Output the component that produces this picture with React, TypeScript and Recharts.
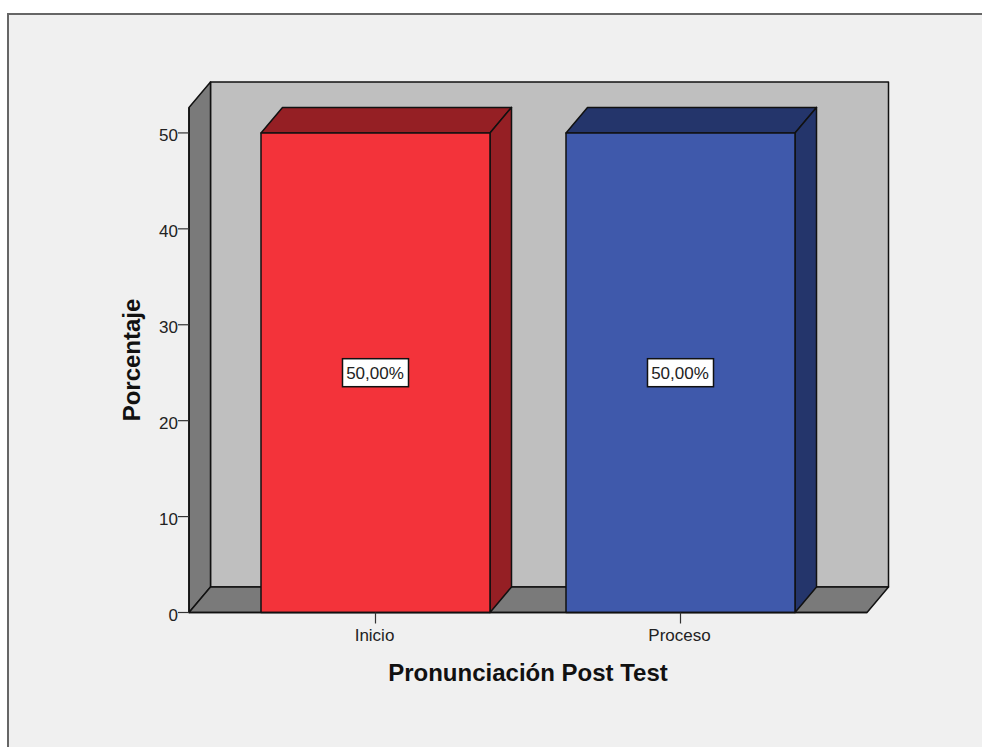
import { BarChart, Bar, XAxis, YAxis, LabelList, usePlotArea } from 'recharts';

const categories = ['Inicio', 'Proceso'];
const percentages = [50, 50];
const yTicks = [0, 10, 20, 30, 40, 50];
const yMax = 52.65;

const frontColors = ['#f3333a', '#3f59ab'];
const shadeColors = ['#951f24', '#24356b'];

const rows = categories.map((name, i) => ({ name, value: percentages[i] }));

// offset of the back wall from the front of the box
const DX = 21.5;
const DY = 25.5;
const FONT = '"Liberation Sans", Arial, sans-serif';

function Box() {
  const plot = usePlotArea();
  if (!plot) return null;
  const { x, y, width, height } = plot;
  const line = { stroke: '#111', strokeWidth: 1.5, strokeLinejoin: 'round' as const };
  return (
    <g>
      <rect x={x + DX} y={y - DY} width={width} height={height} fill="#bfbfbf" {...line} />
      <polygon
        points={`${x},${y} ${x + DX},${y - DY} ${x + DX},${y + height - DY} ${x},${y + height}`}
        fill="#7a7a7a"
        {...line}
      />
      <polygon
        points={`${x},${y + height} ${x + DX},${y + height - DY} ${x + width + DX},${y + height - DY} ${x + width},${y + height}`}
        fill="#7a7a7a"
        {...line}
      />
    </g>
  );
}

function Bar3D(props: any) {
  const { x, y, width, height, index } = props;
  const line = { stroke: '#111', strokeWidth: 1.5, strokeLinejoin: 'round' as const };
  return (
    <g>
      <polygon
        points={`${x},${y} ${x + DX},${y - DY} ${x + width + DX},${y - DY} ${x + width},${y}`}
        fill={shadeColors[index]}
        {...line}
      />
      <polygon
        points={`${x + width},${y} ${x + width + DX},${y - DY} ${x + width + DX},${y + height - DY} ${x + width},${y + height}`}
        fill={shadeColors[index]}
        {...line}
      />
      <rect x={x} y={y} width={width} height={height} fill={frontColors[index]} {...line} />
    </g>
  );
}

function ValueBox(props: any) {
  const { x, y, width, height, value } = props;
  const cx = x + width / 2;
  const cy = y + height / 2;
  return (
    <g>
      <rect x={cx - 33} y={cy - 14} width={66} height={28} fill="#fff" stroke="#111" strokeWidth={1.5} />
      <text x={cx - 0.5} y={cy + 6} textAnchor="middle" fontFamily={FONT} fontSize={17} fill="#222">
        {value.toFixed(2).replace('.', ',')}%
      </text>
    </g>
  );
}

function YTick(props: any) {
  const { x, y, payload } = props;
  return (
    <text x={x + 1} y={y + 8.5} textAnchor="end" fontFamily={FONT} fontSize={17} fill="#222">
      {payload.value}
    </text>
  );
}

export default function App() {
  return (
    <div style={{ position: 'absolute', left: 0, top: 0, width: 982, height: 747, background: '#fff', overflow: 'hidden' }}>
      <div
        style={{
          position: 'absolute',
          left: 7,
          top: 13,
          width: 975,
          height: 734,
          boxSizing: 'border-box',
          background: '#f0f0f0',
          borderLeft: '2px solid #666',
          borderTop: '2px solid #666',
        }}
      />
      <div style={{ position: 'absolute', left: 0, top: 0 }}>
        <BarChart
          width={982}
          height={747}
          data={rows}
          margin={{ top: 107.5, right: 115, bottom: 94.5, left: 129 }}
        >
          <Box />
          <XAxis
            dataKey="name"
            height={40}
            padding={{ left: 34, right: 34 }}
            tickSize={11}
            tickMargin={5}
            axisLine={{ stroke: '#111', strokeWidth: 1.5 }}
            tickLine={{ stroke: '#333', strokeWidth: 1.2 }}
            tick={{ fontFamily: FONT, fontSize: 17, fill: '#222', dx: -1 }}
            label={{
              value: 'Pronunciación Post Test',
              position: 'bottom',
              offset: 11,
              fontFamily: FONT,
              fontSize: 24,
              fontWeight: 700,
              fill: '#111',
            }}
          />
          <YAxis
            width={60}
            domain={[0, yMax]}
            ticks={yTicks}
            tickSize={11}
            tickMargin={1}
            axisLine={{ stroke: '#111', strokeWidth: 1.5 }}
            tickLine={{ stroke: '#333', strokeWidth: 1.2 }}
            tick={YTick}
            label={{
              value: 'Porcentaje',
              angle: -90,
              position: 'insideLeft',
              offset: 2,
              style: { textAnchor: 'middle' },
              fontFamily: FONT,
              fontSize: 24,
              fontWeight: 700,
              fill: '#111',
            }}
          />
          <Bar dataKey="value" barSize={229} shape={Bar3D} isAnimationActive={false}>
            <LabelList dataKey="value" content={ValueBox} />
          </Bar>
        </BarChart>
      </div>
    </div>
  );
}
